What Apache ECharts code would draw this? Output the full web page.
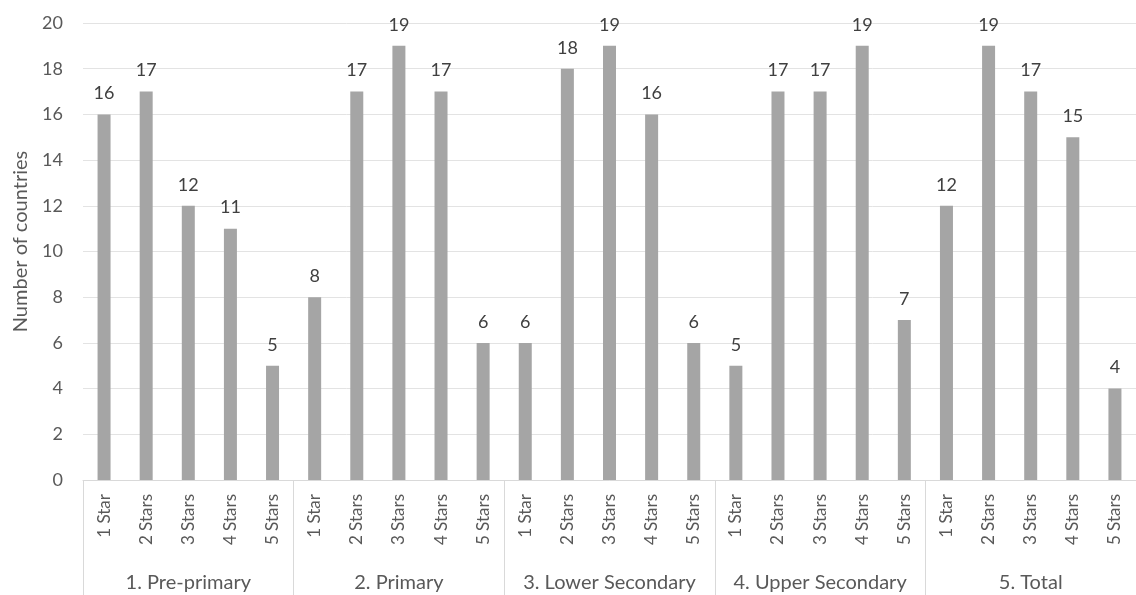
<!DOCTYPE html>
<html>
<head>
<meta charset="utf-8">
<script src="https://cdn.jsdelivr.net/npm/echarts@6/dist/echarts.min.js"></script>
<style>
html,body{margin:0;padding:0;background:#fff;}
#chart{width:1136px;height:595px;}
</style>
</head>
<body>
<div id="chart"></div>
<script>
const groups = ['1. Pre-primary', '2. Primary', '3. Lower Secondary', '4. Upper Secondary', '5. Total'];
const stars = ['1 Star', '2 Stars', '3 Stars', '4 Stars', '5 Stars'];
const prePrimary = [16, 17, 12, 11, 5];
const primary = [8, 17, 19, 17, 6];
const lowerSecondary = [6, 18, 19, 16, 6];
const upperSecondary = [5, 17, 17, 19, 7];
const total = [12, 19, 17, 15, 4];
const yTicks = { min: 0, max: 20, interval: 2 };

const categories = [];
groups.forEach(() => stars.forEach(s => categories.push(s)));
const values = [].concat(prePrimary, primary, lowerSecondary, upperSecondary, total);

const FONT = 'Lato, "Open Sans", sans-serif';
const chart = echarts.init(document.getElementById('chart'));
chart.setOption({
  animation: false,
  grid: { left: 83, right: 0, top: 23, bottom: 115, containLabel: false },
  xAxis: [
    {
      type: 'category',
      data: categories,
      axisLine: { show: true, lineStyle: { color: '#d9d9d9', width: 1 } },
      axisTick: { show: false },
      axisLabel: { rotate: 90, interval: 0, margin: 14, fontFamily: FONT, fontSize: 17, color: '#595959' }
    },
    {
      type: 'category',
      position: 'bottom',
      data: groups,
      axisLine: { show: false },
      axisTick: { show: true, length: 115, interval: 0, lineStyle: { color: '#d9d9d9', width: 1 } },
      axisLabel: { interval: 0, margin: 93, fontFamily: FONT, fontSize: 20, color: '#595959' }
    }
  ],
  yAxis: {
    type: 'value',
    min: yTicks.min, max: yTicks.max, interval: yTicks.interval,
    name: 'Number of countries',
    nameLocation: 'middle',
    nameGap: 52,
    nameTextStyle: { fontFamily: FONT, fontSize: 20, color: '#595959', padding: [0, 0, 0, 20] },
    axisLine: { show: false },
    axisTick: { show: false },
    axisLabel: { margin: 20, fontFamily: FONT, fontSize: 18, color: '#595959' },
    splitLine: { show: true, lineStyle: { color: '#e3e3e3', width: 1 } }
  },
  series: [{
    type: 'bar',
    xAxisIndex: 0,
    data: values,
    barWidth: 13,
    itemStyle: { color: '#a5a5a5' },
    label: { show: true, position: 'top', distance: 12, fontFamily: FONT, fontSize: 18, color: '#404040' }
  }]
});
</script>
</body>
</html>
